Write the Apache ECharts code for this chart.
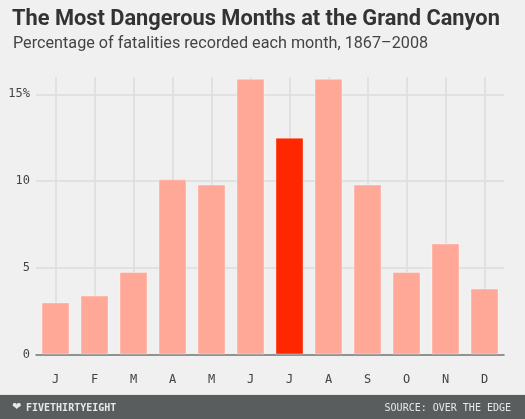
<!DOCTYPE html>
<html>
<head>
<meta charset="utf-8">
<script src="https://cdn.jsdelivr.net/npm/echarts@6/dist/echarts.min.js"></script>
<style>
    html, body { margin: 0; padding: 0; background: #f0f0f0; }
    #chart { width: 525px; height: 419px; }
</style>
</head>
<body>
<div id="chart"></div>
<script>
// 数据
const months = ['J', 'F', 'M', 'A', 'M', 'J', 'J', 'A', 'S', 'O', 'N', 'D']
const fatalityPct = [3.0, 3.4, 4.75, 10.1, 9.8, 15.9, 12.5, 15.9, 9.8, 4.75, 6.4, 3.8]
const highlightIndex = 6 // 七月高亮
const yTicks = [0, 5, 10, 15]

const barColor = '#ffa898'
const hotColor = '#ff2700'
const gridColor = '#dcdcdc'
const monoFont = '"DejaVu Sans Mono", "Liberation Mono", monospace'

const myChart = echarts.init(document.getElementById('chart'))

const option = {
    backgroundColor: '#f0f0f0',
    animation: false,
    title: [
        {
            text: 'The Most Dangerous Months at the Grand Canyon',
            left: 12,
            top: 9,
            padding: 0,
            textStyle: {
                fontFamily: 'Roboto, "Noto Sans", sans-serif',
                fontWeight: 'bold',
                fontSize: 21.8,
                color: '#333',
            },
        },
        {
            text: 'Percentage of fatalities recorded each month, 1867\u20132008',
            left: 13,
            top: 36,
            padding: 0,
            textStyle: {
                fontFamily: 'Roboto, "Noto Sans", sans-serif',
                fontWeight: 'normal',
                fontSize: 16.2,
                color: '#444',
            },
        },
    ],
    grid: {
        left: 36,
        right: 21,
        top: 77,
        bottom: 419 - 354.5,
    },
    xAxis: {
        type: 'category',
        data: months,
        axisLine: { lineStyle: { color: '#777', width: 1.5 } },
        axisTick: {
            alignWithLabel: true,
            length: 11,
            lineStyle: { color: gridColor, width: 1.5 },
        },
        splitLine: {
            show: true,
            alignWithLabel: true,
            lineStyle: { color: gridColor, width: 1.5 },
        },
        axisLabel: {
            margin: 19,
            fontFamily: monoFont,
            fontSize: 12,
            color: '#444',
        },
    },
    yAxis: {
        type: 'value',
        min: 0,
        max: 16,
        interval: 5,
        axisLine: { show: false },
        axisTick: { show: false },
        splitLine: {
            showMaxLine: false,
            lineStyle: { color: gridColor, width: 1.5 },
        },
        axisLabel: {
            showMaxLabel: false,
            margin: 6,
            fontFamily: monoFont,
            fontSize: 12,
            color: '#444',
            formatter: (v) => (yTicks.includes(v) ? (v === 15 ? v + '%' : String(v)) : ''),
        },
    },
    series: [
        {
            type: 'bar',
            barWidth: 28,
            data: fatalityPct.map((v, i) => ({
                value: v,
                itemStyle: { color: i === highlightIndex ? hotColor : barColor },
            })),
            itemStyle: {
                borderColor: 'rgba(255,255,255,0.35)',
                borderWidth: 1,
            },
        },
    ],
    graphic: [
        {
            type: 'rect',
            left: 0,
            bottom: 0,
            shape: { width: 525, height: 24 },
            style: { fill: '#595d5e' },
        },
        {
            type: 'rect',
            left: 0,
            bottom: 24,
            shape: { width: 525, height: 1 },
            style: { fill: '#e4e4e4' },
        },
        {
            type: 'text',
            left: 12,
            bottom: 6,
            style: {
                text: '\u2764',
                fill: '#e8e8e8',
                font: '11px "DejaVu Sans"',
            },
        },
        {
            type: 'text',
            left: 26,
            bottom: 6,
            style: {
                text: 'FIVETHIRTYEIGHT',
                fill: '#e8e8e8',
                font: 'bold 10px ' + monoFont,
            },
        },
        {
            type: 'text',
            right: 14,
            bottom: 6,
            style: {
                text: 'SOURCE: OVER THE EDGE',
                fill: '#e8e8e8',
                font: '10px ' + monoFont,
            },
        },
    ],
}

myChart.setOption(option)
</script>
</body>
</html>
